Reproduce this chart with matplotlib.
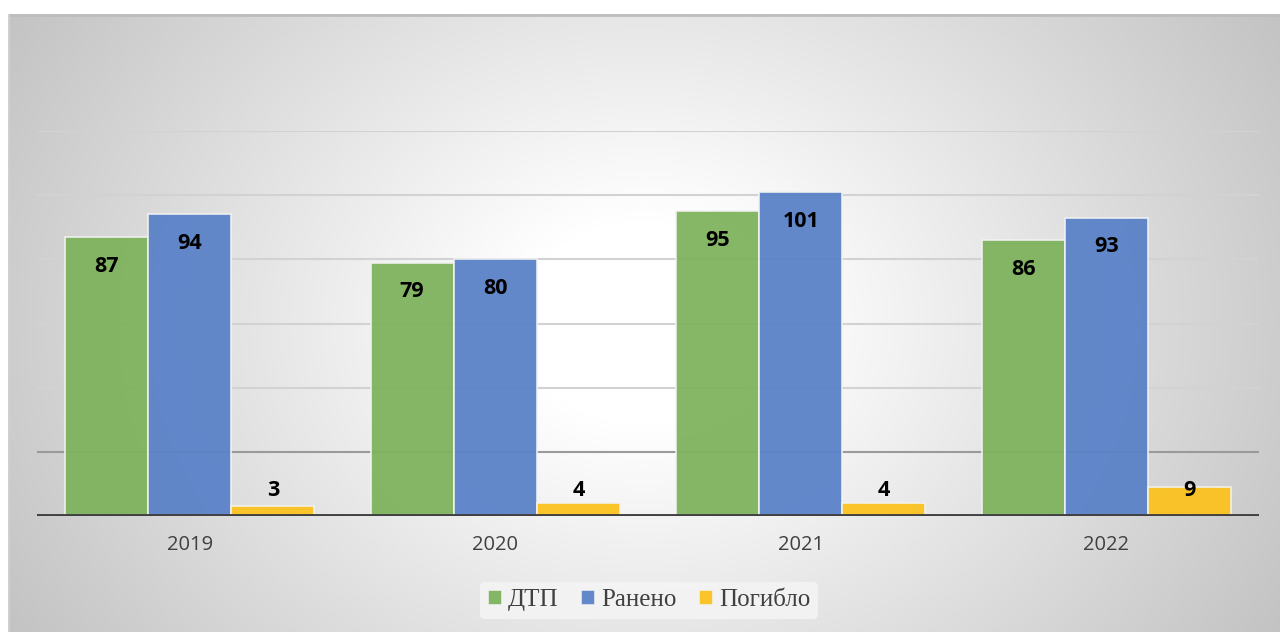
import numpy as np
import matplotlib.pyplot as plt

years = ['2019', '2020', '2021', '2022']
dtp = [87, 79, 95, 86]
raneno = [94, 80, 101, 93]
pogiblo = [3, 4, 4, 9]
series_names = ['ДТП', 'Ранено', 'Погибло']
colors = ['#7fb35e', '#5a82c8', '#fbc21f']

W, H = 1280, 632
fig = plt.figure(figsize=(W / 100, H / 100), dpi=100)
fig.patch.set_facecolor('white')

# background panel with a radial gradient (white centre, grey edges)
bg = fig.add_axes([8 / W, 0, (W - 8) / W, (H - 14) / H], zorder=0)
gx, gy = np.meshgrid(np.linspace(-1, 1, 400), np.linspace(-1, 1, 200))
d = np.sqrt(gx ** 2 + (gy * 0.6) ** 2)
shade = 255 - 62 * np.clip((d - 0.2) / 1.0, 0, 1)
img = np.dstack([shade, shade, shade]).astype(np.uint8)
bg.imshow(img, aspect='auto', extent=[0, 1, 0, 1])
bg.set_xlim(0, 1)
bg.set_ylim(0, 1)
bg.set_axis_off()
bg.axhline(0.998, color='#bdbdbd', lw=2)
bg.axvline(0.001, color='#cfcfcf', lw=1.5)

ax = fig.add_axes([37 / W, (H - 516) / H, (1259 - 37) / W, (516 - 131) / H], zorder=1)
ax.patch.set_alpha(0)

x = np.arange(len(years))
w = 0.272
data = [dtp, raneno, pogiblo]
for i, (vals, c, name) in enumerate(zip(data, colors, series_names)):
    pos = x + (i - 1) * w
    ax.bar(pos, vals, w, color=c, alpha=0.95, edgecolor='#f2f2f2', linewidth=1.2,
           label=name, zorder=3)
    for px, v in zip(pos, vals):
        if i < 2:
            ax.annotate(str(v), (px, v), xytext=(0, -21), textcoords='offset points',
                        ha='center', va='center', fontsize=15.5, fontweight='bold',
                        family='Open Sans', color='black', zorder=5)
        else:
            ax.annotate(str(v), (px, 0), xytext=(0, 18), textcoords='offset points',
                        ha='center', va='center', fontsize=15.5, fontweight='bold',
                        family='Open Sans', color='black', zorder=5)

ax.set_xlim(-0.5, len(years) - 0.5)
ax.set_ylim(0, 120)
for g in [20, 40, 60, 80, 100, 120]:
    ax.axhline(g, color='#9a9a9a' if g == 20 else '#d2d2d2', lw=1.5, zorder=1)

ax.axhline(0, color='#404040', lw=3.5, zorder=4)
ax.set_xticks(x)
ax.set_xticklabels(years, fontsize=14.5, color='#404040', family='Open Sans')
ax.tick_params(axis='x', length=0, pad=14)
ax.set_yticks([])
for s in ax.spines.values():
    s.set_visible(False)

leg = fig.legend(loc='center', bbox_to_anchor=(649 / W, (H - 600) / H), ncol=3,
                 frameon=True, prop={'family': 'Liberation Serif', 'size': 18},
                 handlelength=0.55, handleheight=0.55, handletextpad=0.25,
                 columnspacing=0.9, borderpad=0.3)
leg.get_frame().set_facecolor('#f4f4f4')
leg.get_frame().set_edgecolor('none')
leg.get_frame().set_alpha(0.9)
for t in leg.get_texts():
    t.set_color('#404040')

fig.savefig('out.png', dpi=100)
